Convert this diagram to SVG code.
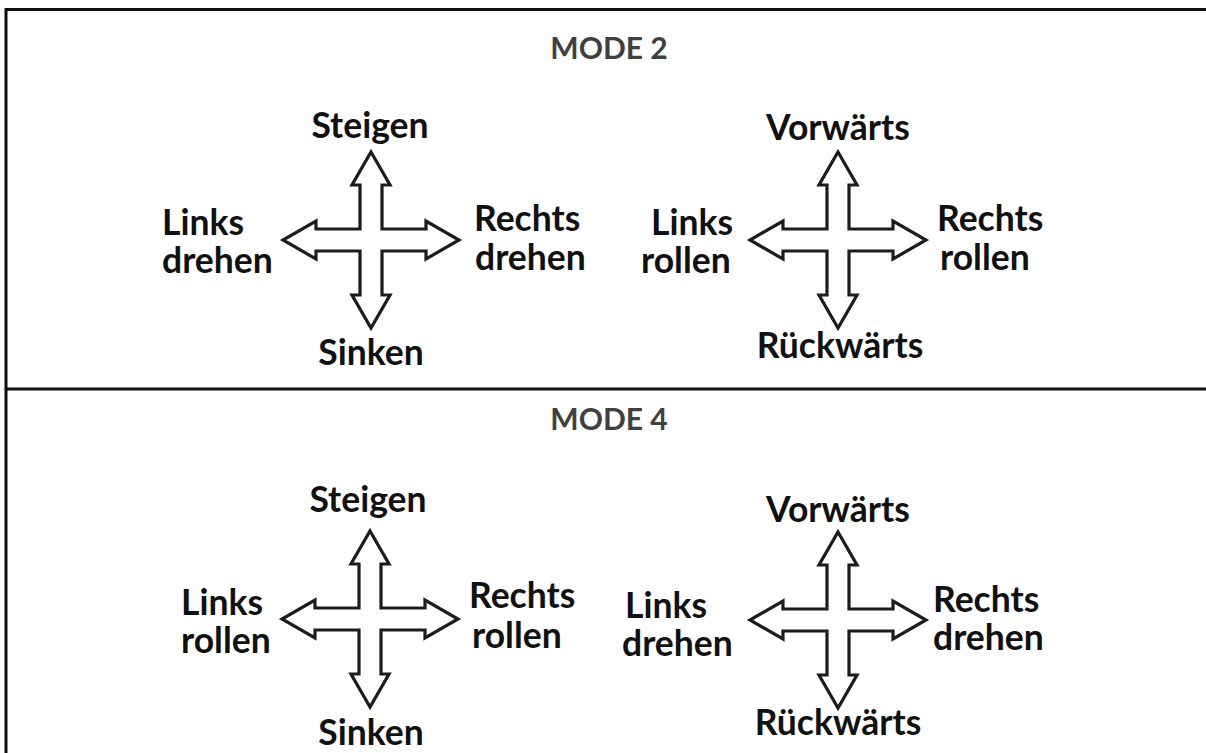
<svg xmlns="http://www.w3.org/2000/svg" width="1206" height="753" viewBox="0 0 1206 753">
<style>
.lbl{font-family:Lato,"Open Sans",sans-serif;font-weight:700;font-size:35.5px;fill:#111}
.c{text-anchor:middle}
.mode{font-family:Lato,"Open Sans",sans-serif;font-weight:700;font-size:30px;fill:#404040;text-anchor:middle}
.cross{fill:#fff;stroke:#1c1c1c;stroke-width:3.2;stroke-linejoin:miter}
.rule{stroke:#111;stroke-width:3;fill:none}
</style>
<defs>
<path id="cross" d="M0,-88 L19,-55 L11,-55 L11,-11 L55,-11 L55,-19 L88,0 L55,19 L55,11 L11,11 L11,55 L19,55 L0,88 L-19,55 L-11,55 L-11,11 L-55,11 L-55,19 L-88,0 L-55,-19 L-55,-11 L-11,-11 L-11,-55 L-19,-55 Z"/>
</defs>
<rect width="1206" height="753" fill="#fff"/>
<g id="frame">
<line class="rule" x1="6" y1="9.5" x2="1206" y2="9.5"/>
<line class="rule" x1="6" y1="8" x2="6" y2="753"/>
<line class="rule" x1="6" y1="389" x2="1206" y2="389"/>
</g>
<g id="mode2">
<text class="mode" x="609" y="59">MODE 2</text>
</g>
<g id="cross-m2-left">
<use href="#cross" class="cross" transform="translate(371,240)"/>
<text class="lbl c" x="370" y="138">Steigen</text>
<text class="lbl c" x="371" y="365">Sinken</text>
<text class="lbl" x="162" y="235">Links</text>
<text class="lbl" x="162" y="273">drehen</text>
<text class="lbl" x="474" y="231">Rechts</text>
<text class="lbl" x="475" y="270">drehen</text>
</g>
<g id="cross-m2-right">
<use href="#cross" class="cross" transform="translate(838,240)"/>
<text class="lbl c" x="838" y="140">Vorwärts</text>
<text class="lbl c" x="840" y="358">Rückwärts</text>
<text class="lbl" x="651" y="235">Links</text>
<text class="lbl" x="641" y="273">rollen</text>
<text class="lbl" x="937" y="231">Rechts</text>
<text class="lbl" x="940" y="270">rollen</text>
</g>
<g id="mode4">
<text class="mode" x="609" y="430">MODE 4</text>
</g>
<g id="cross-m4-left">
<use href="#cross" class="cross" transform="translate(370,619)"/>
<text class="lbl c" x="368" y="512">Steigen</text>
<text class="lbl c" x="371" y="745">Sinken</text>
<text class="lbl" x="181" y="615">Links</text>
<text class="lbl" x="181" y="653">rollen</text>
<text class="lbl" x="469" y="608">Rechts</text>
<text class="lbl" x="472" y="648">rollen</text>
</g>
<g id="cross-m4-right">
<use href="#cross" class="cross" transform="translate(838,620)"/>
<text class="lbl c" x="838" y="522">Vorwärts</text>
<text class="lbl c" x="838" y="735">Rückwärts</text>
<text class="lbl" x="625" y="618">Links</text>
<text class="lbl" x="622" y="656">drehen</text>
<text class="lbl" x="933" y="612">Rechts</text>
<text class="lbl" x="933" y="650">drehen</text>
</g>
</svg>
